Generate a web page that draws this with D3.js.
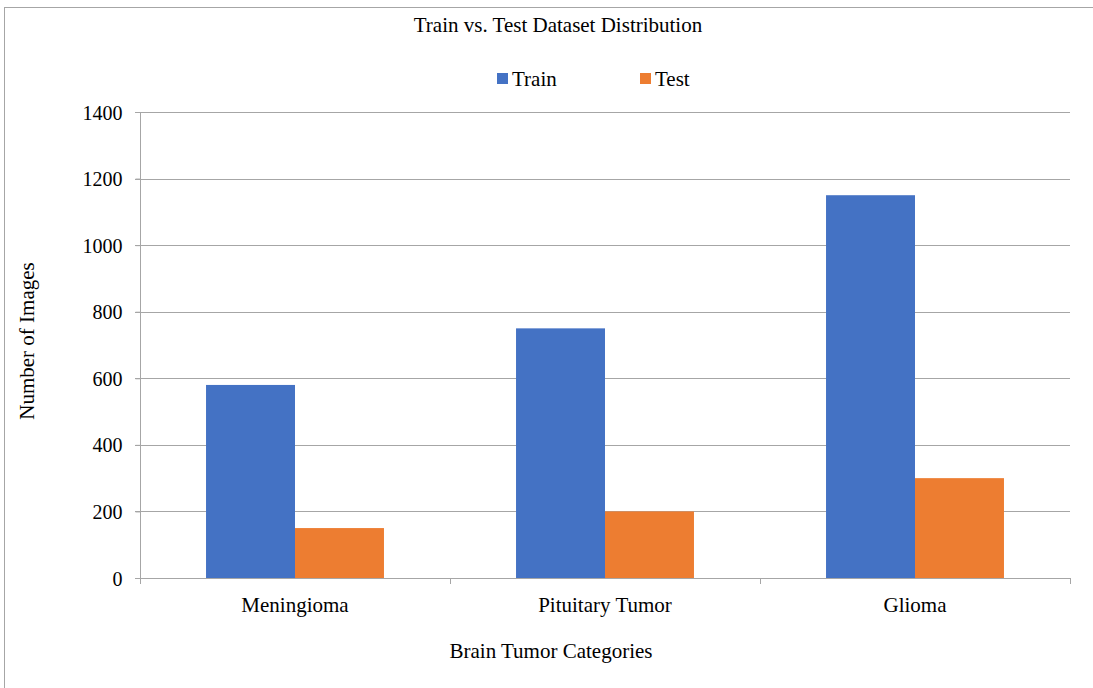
<!DOCTYPE html>
<html><head><meta charset="utf-8">
<script src="https://cdn.jsdelivr.net/npm/d3@7"></script>
<style>body{margin:0;background:#fff}svg{display:block}text{font-family:"Liberation Serif","Times New Roman",serif;fill:#000}</style>
</head><body>
<svg id="c" width="1093" height="688"></svg>
<script>
const categories = ["Meningioma", "Pituitary Tumor", "Glioma"];
const seriesNames = ["Train", "Test"];
const trainValues = [580, 750, 1150];
const testValues = [150, 200, 300];
const yTicks = [0, 200, 400, 600, 800, 1000, 1200, 1400];
const colors = ["#4472C4", "#ED7D31"];

const svg = d3.select("#c");
const m = {l: 140, r: 1070, t: 112, b: 578};

svg.append("rect").attr("x", 4.5).attr("y", 7.5).attr("width", 1200).attr("height", 800)
  .attr("fill", "none").attr("stroke", "#a6a6a6").attr("stroke-width", 1);

const x0 = d3.scaleBand().domain(categories).range([m.l, m.r]).paddingInner(0.426).paddingOuter(0.213);
const x1 = d3.scaleBand().domain(seriesNames).range([0, x0.bandwidth()]);
const y = d3.scaleLinear().domain([0, 1400]).range([m.b, m.t]);

// gridlines
svg.append("g").selectAll("line").data(yTicks.filter(d => d > 0)).join("line")
  .attr("x1", m.l - 5).attr("x2", m.r).attr("y1", d => Math.round(y(d)) + 0.5).attr("y2", d => Math.round(y(d)) + 0.5)
  .attr("stroke", "#a6a6a6").attr("stroke-width", 1);

// bars
const data = categories.map((c, i) => ({c, vals: [trainValues[i], testValues[i]]}));
const g = svg.append("g").selectAll("g").data(data).join("g")
  .attr("transform", d => `translate(${x0(d.c)},0)`);
g.selectAll("rect").data(d => d.vals.map((v, j) => ({s: seriesNames[j], v, j}))).join("rect")
  .attr("x", d => x1(d.s)).attr("width", x1.bandwidth())
  .attr("y", d => y(d.v)).attr("height", d => y(0) - y(d.v))
  .attr("fill", d => colors[d.j]);

// y axis
const ya = svg.append("g").attr("transform", `translate(${m.l + 0.5},0)`)
  .call(d3.axisLeft(y).tickValues(yTicks).tickFormat(d3.format("d")).tickSize(5).tickPadding(13));
ya.selectAll("text").style("font-size", "20px").attr("font-family", null).attr("dy", "0.35em");
ya.select(".domain").remove();
svg.append("line").attr("x1", m.l + 0.5).attr("x2", m.l + 0.5).attr("y1", m.t).attr("y2", m.b)
  .attr("stroke", "#a6a6a6");
ya.selectAll("line").attr("stroke", "#a6a6a6");

// x axis
svg.append("line").attr("x1", m.l - 5).attr("x2", m.r).attr("y1", m.b + 0.5).attr("y2", m.b + 0.5).attr("stroke", "#a6a6a6");
const bounds = [m.l, ...categories.map(c => x0(c) + x0.bandwidth() + x0.step() * 0.426 / 2)];
svg.append("g").selectAll("line").data(bounds).join("line")
  .attr("x1", d => Math.round(d) + 0.5).attr("x2", d => Math.round(d) + 0.5)
  .attr("y1", m.b).attr("y2", m.b + 6).attr("stroke", "#a6a6a6");
svg.append("g").selectAll("text").data(categories).join("text")
  .attr("x", d => x0(d) + x0.bandwidth() / 2).attr("y", 612)
  .attr("text-anchor", "middle").style("font-size", "21px").text(d => d);

// titles
svg.append("text").attr("x", 558).attr("y", 32).attr("text-anchor", "middle").style("font-size", "21px")
  .text("Train vs. Test Dataset Distribution");
svg.append("text").attr("x", 551).attr("y", 658).attr("text-anchor", "middle").style("font-size", "21px")
  .text("Brain Tumor Categories");
svg.append("text").attr("transform", "translate(34,341) rotate(-90)").attr("text-anchor", "middle")
  .style("font-size", "21px").text("Number of Images");

// legend
const legX = [497, 640];
const lg = svg.append("g").selectAll("g").data(seriesNames).join("g")
  .attr("transform", (d, i) => `translate(${legX[i]},0)`);
lg.append("rect").attr("x", 0).attr("y", 73).attr("width", 11).attr("height", 11).attr("fill", (d, i) => colors[i]);
lg.append("text").attr("x", 15).attr("y", 86).style("font-size", "21px").text(d => d);
</script>
</body></html>
